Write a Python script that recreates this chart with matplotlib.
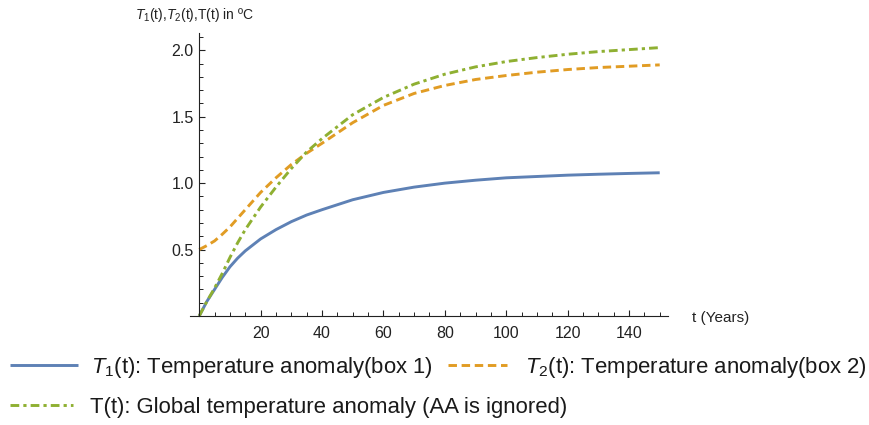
import matplotlib
matplotlib.use("Agg")
import matplotlib.pyplot as plt
from matplotlib.ticker import MultipleLocator, FixedLocator, FormatStrFormatter

t = [0, 2.5, 5, 7.5, 10, 12.5, 15, 20, 25, 30, 35, 40, 50, 60, 70, 80, 90, 100,
     110, 120, 130, 140, 150]
T1 = [0, 0.11, 0.20, 0.29, 0.37, 0.435, 0.49, 0.58, 0.65, 0.71, 0.76, 0.80, 0.875, 0.93,
      0.97, 1.0, 1.022, 1.04, 1.05, 1.06, 1.067, 1.073, 1.078]
T2 = [0.5, 0.53, 0.565, 0.615, 0.67, 0.735, 0.80, 0.93, 1.04, 1.14, 1.225, 1.30, 1.455,
      1.585, 1.675, 1.735, 1.78, 1.81, 1.835, 1.855, 1.87, 1.88, 1.89]
T = [0, 0.11, 0.21, 0.32, 0.44, 0.55, 0.65, 0.82, 0.97, 1.11, 1.235, 1.335, 1.515, 1.645,
     1.745, 1.82, 1.875, 1.915, 1.945, 1.97, 1.99, 2.005, 2.02]

labels = [r"$T_1$(t): Temperature anomaly(box 1)",
          r"$T_2$(t): Temperature anomaly(box 2)",
          "T(t): Global temperature anomaly (AA is ignored)"]
xticks = [20, 40, 60, 80, 100, 120, 140]
yticks = [0.5, 1.0, 1.5, 2.0]

plt.rcParams['font.family'] = ['Liberation Sans', 'DejaVu Sans']
plt.rcParams['mathtext.fontset'] = 'custom'
plt.rcParams['mathtext.rm'] = 'Liberation Sans'
plt.rcParams['mathtext.it'] = 'Liberation Sans:italic'

fig = plt.figure(figsize=(8.69, 4.25), dpi=100)
ax = fig.add_axes([190/869, 1-316/425, (668-190)/869, (316-33)/425])

blue, orange, green = '#5E81B5', '#E19C24', '#8FB032'
lw = 2.1
l1, = ax.plot(t, T1, color=blue, lw=lw, solid_capstyle='butt')
l2, = ax.plot(t, T2, color=orange, lw=lw, dashes=(2.9, 1.6))
l3, = ax.plot(t, T, color=green, lw=lw, dashes=(3.0, 1.4, 1.1, 1.4))

ax.set_xlim(-3, 152.7)
ax.set_ylim(0, 2.13)
for s in ['top', 'right']:
    ax.spines[s].set_visible(False)
ax.spines['left'].set_position(('data', 0))
ax.spines['bottom'].set_position(('data', 0))
for s in ['left', 'bottom']:
    ax.spines[s].set_color('#222222')
    ax.spines[s].set_linewidth(0.8)

ax.xaxis.set_major_locator(FixedLocator(xticks))
ax.xaxis.set_minor_locator(MultipleLocator(5))
ax.yaxis.set_major_locator(FixedLocator(yticks))
ax.yaxis.set_minor_locator(MultipleLocator(0.1))
ax.yaxis.set_major_formatter(FormatStrFormatter('%.1f'))
ax.tick_params(which='major', direction='in', length=4.5, width=0.8, color='#222222',
               labelsize=11.5, labelcolor='#222222')
ax.tick_params(which='minor', direction='in', length=2.7, width=0.7, color='#222222')
ax.tick_params(axis='x', which='major', pad=7)
ax.tick_params(axis='y', which='major', pad=4)

fig.text(692/869, 1-318/425, "t (Years)", fontsize=11, color='#222222', va='center', ha='left')
fig.text(135/869, 1-15/425, r"$T_1$(t),$T_2$(t),T(t) in ºC", fontsize=10, color='#222222',
         va='center', ha='left')

fs = 15.9
em = fs * 100 / 72.0
common = dict(frameon=False, fontsize=fs, borderaxespad=0, borderpad=0, loc='center left')
legs = [
    fig.legend([l1], [labels[0]], handlelength=68/em, handletextpad=13/em,
               bbox_to_anchor=(10/869, 1-367/425), **common),
    fig.legend([l2], [labels[1]], handlelength=59/em, handletextpad=18/em,
               bbox_to_anchor=(448/869, 1-367/425), **common),
    fig.legend([l3], [labels[2]], handlelength=63/em, handletextpad=17/em,
               bbox_to_anchor=(10/869, 1-407/425), **common),
]
for lg in legs:
    for txt in lg.get_texts():
        txt.set_color('#1a1a1a')

fig.savefig("out.png", dpi=100)
